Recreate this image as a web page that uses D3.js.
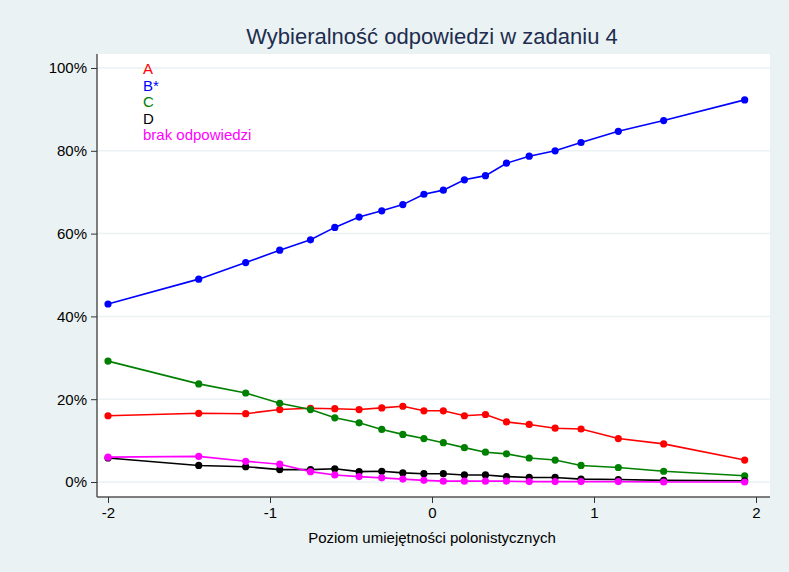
<!DOCTYPE html><html><head><meta charset="utf-8"><script src="https://cdn.jsdelivr.net/npm/d3@7"></script>
<style>body{margin:0;background:#eaf2f3}text{font-family:Arial,"Liberation Sans",sans-serif}</style></head><body><svg id="c" width="789" height="572"></svg><script>
const xs=[-2.0,-1.44,-1.15,-0.94,-0.75,-0.6,-0.45,-0.31,-0.18,-0.05,0.07,0.2,0.33,0.46,0.6,0.76,0.92,1.15,1.43,1.93];
const sA=[16,16.6,16.5,17.5,17.8,17.7,17.5,17.9,18.3,17.2,17.2,16,16.3,14.5,13.9,13,12.8,10.5,9.2,5.3];
const sB=[43,49,53,56,58.5,61.5,64,65.5,67,69.5,70.5,73,74,77,78.7,80,82,84.7,87.3,92.3];
const sC=[29.2,23.7,21.5,19,17.5,15.5,14.3,12.7,11.5,10.5,9.5,8.3,7.2,6.8,5.8,5.3,4,3.5,2.6,1.5];
const sD=[5.8,4,3.7,3,3,3.2,2.5,2.6,2.2,2,2,1.7,1.7,1.3,1.1,1.1,0.7,0.6,0.4,0.3];
const sE=[6,6.2,5,4.3,2.5,1.7,1.3,1,0.7,0.4,0.2,0.2,0.2,0.2,0.1,0.1,0.1,0.1,0,0];
const names=["A","B*","C","D","brak odpowiedzi"];
const colors=["#ff0000","#0000ff","#008000","#000000","#ff00ff"];
const series=[sA,sB,sC,sD,sE];
const xTicks=[-2,-1,0,1,2], yTicks=[0,20,40,60,80,100];
const svg=d3.select("#c");
const L=97,R=770,T=54,B=497;
const x=d3.scaleLinear().domain([-2,2]).range([108,756]);
const y=d3.scaleLinear().domain([0,100]).range([482,68]);
svg.append("rect").attr("x",L).attr("y",T).attr("width",R-L).attr("height",B-T).attr("fill","#fff");
svg.append("g").selectAll("line").data(yTicks).join("line").attr("x1",L).attr("x2",R).attr("y1",d=>y(d)).attr("y2",d=>y(d)).attr("stroke","#eaf2f3").attr("stroke-width",1.5);
const ya=svg.append("g").attr("transform",`translate(${L},0)`).call(d3.axisLeft(y).tickValues(yTicks).tickFormat(d=>d+"%").tickSize(6).tickPadding(4));
const xa=svg.append("g").attr("transform",`translate(0,${B})`).call(d3.axisBottom(x).tickValues(xTicks).tickFormat(d=>d<0?"-"+(-d):d).tickSize(6).tickPadding(4));
[ya,xa].forEach(a=>{a.selectAll("text").attr("font-size",15).attr("fill","#000");a.selectAll("line").attr("stroke","#333");a.select(".domain").attr("stroke","#555").attr("stroke-width",1.5);});
ya.select(".domain").attr("d",`M0,${T}V${B}`);xa.select(".domain").attr("d",`M${L},0H${R}`);
const line=d3.line().x((d,i)=>x(xs[i])).y(d=>y(d));
series.forEach((s,k)=>{
 svg.append("path").attr("d",line(s)).attr("fill","none").attr("stroke",colors[k]).attr("stroke-width",1.6);
 svg.append("g").selectAll("circle").data(s).join("circle").attr("cx",(d,i)=>x(xs[i])).attr("cy",d=>y(d)).attr("r",3.6).attr("fill",colors[k]);
});
svg.append("g").selectAll("text").data(names).join("text").attr("x",143).attr("y",(d,i)=>74+i*16.5).attr("font-size",15).attr("fill",(d,i)=>colors[i]).text(d=>d);
svg.append("text").attr("x",432).attr("y",44).attr("text-anchor","middle").attr("font-size",22).attr("fill","#1e2d4f").text("Wybieralność odpowiedzi w zadaniu 4");
svg.append("text").attr("x",432).attr("y",543).attr("text-anchor","middle").attr("font-size",15).attr("fill","#000").text("Poziom umiejętności polonistycznych");
</script></body></html>
